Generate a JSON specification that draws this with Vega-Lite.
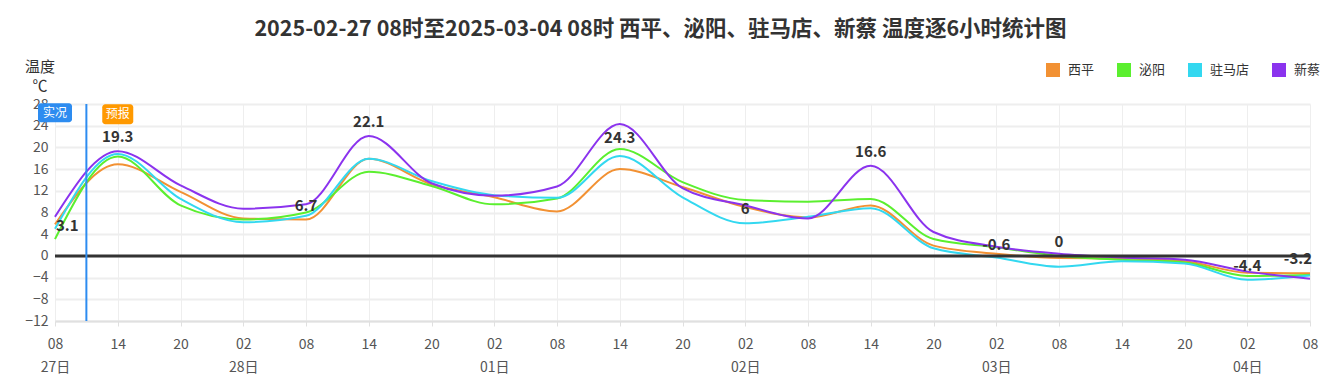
{
  "$schema": "https://vega.github.io/schema/vega-lite/v6.json",
  "width": 1255,
  "height": 217,
  "autosize": {"type": "none"},
  "padding": {"left": 55, "top": 104, "right": 10, "bottom": 68},
  "background": "white",
  "config": {
    "font": "Noto Sans CJK SC",
    "view": {"stroke": null}
  },
  "title": {
    "text": "2025-02-27 08时至2025-03-04 08时 西平、泌阳、驻马店、新蔡 温度逐6小时统计图",
    "fontSize": 21.5,
    "fontWeight": "bold",
    "color": "#333",
    "anchor": "middle",
    "frame": "group",
    "dx": -22,
    "offset": 19
  },
  "datasets": {
    "temps": [
      {"t": "2025-02-27 08:00", "西平": 5.8, "泌阳": 3.1, "驻马店": 5.0, "新蔡": 7.2},
      {"t": "2025-02-27 14:00", "西平": 16.9, "泌阳": 18.3, "驻马店": 18.8, "新蔡": 19.3},
      {"t": "2025-02-27 20:00", "西平": 11.8, "泌阳": 9.3, "驻马店": 10.5, "新蔡": 13.0},
      {"t": "2025-02-28 02:00", "西平": 6.9, "泌阳": 6.7, "驻马店": 6.2, "新蔡": 8.7},
      {"t": "2025-02-28 08:00", "西平": 6.7, "泌阳": 8.0, "驻马店": 7.4, "新蔡": 9.5},
      {"t": "2025-02-28 14:00", "西平": 17.9, "泌阳": 15.5, "驻马店": 17.9, "新蔡": 22.1},
      {"t": "2025-02-28 20:00", "西平": 13.2, "泌阳": 12.9, "驻马店": 13.8, "新蔡": 13.4},
      {"t": "2025-03-01 02:00", "西平": 10.8, "泌阳": 9.5, "驻马店": 11.2, "新蔡": 11.1},
      {"t": "2025-03-01 08:00", "西平": 8.2, "泌阳": 10.6, "驻马店": 10.7, "新蔡": 12.8},
      {"t": "2025-03-01 14:00", "西平": 16.0, "泌阳": 19.7, "驻马店": 18.4, "新蔡": 24.3},
      {"t": "2025-03-01 20:00", "西平": 12.7, "泌阳": 13.6, "驻马店": 10.8, "新蔡": 12.5},
      {"t": "2025-03-02 02:00", "西平": 9.0, "泌阳": 10.3, "驻马店": 6.0, "新蔡": 9.3},
      {"t": "2025-03-02 08:00", "西平": 7.1, "泌阳": 10.0, "驻马店": 7.2, "新蔡": 6.9},
      {"t": "2025-03-02 14:00", "西平": 9.3, "泌阳": 10.5, "驻马店": 8.8, "新蔡": 16.6},
      {"t": "2025-03-02 20:00", "西平": 1.9, "泌阳": 3.1, "驻马店": 1.4, "新蔡": 4.4},
      {"t": "2025-03-03 02:00", "西平": 0.4, "泌阳": 1.6, "驻马店": -0.3, "新蔡": 1.7},
      {"t": "2025-03-03 08:00", "西平": -0.4, "泌阳": 0, "驻马店": -2.0, "新蔡": 0.4},
      {"t": "2025-03-03 14:00", "西平": -0.5, "泌阳": -0.7, "驻马店": -1.0, "新蔡": -0.3},
      {"t": "2025-03-03 20:00", "西平": -1.0, "泌阳": -1.2, "驻马店": -1.4, "新蔡": -0.7},
      {"t": "2025-03-04 02:00", "西平": -3.1, "泌阳": -3.7, "驻马店": -4.4, "新蔡": -2.9},
      {"t": "2025-03-04 08:00", "西平": -3.2, "泌阳": -3.5, "驻马店": -3.6, "新蔡": -4.2}
    ],
    "labels": [
      {"t": "2025-02-27 08:00", "v": 3.1, "label": "3.1"},
      {"t": "2025-02-27 14:00", "v": 19.3, "label": "19.3"},
      {"t": "2025-02-28 08:00", "v": 6.7, "label": "6.7"},
      {"t": "2025-02-28 14:00", "v": 22.1, "label": "22.1"},
      {"t": "2025-03-01 14:00", "v": 24.3, "label": "24.3"},
      {"t": "2025-03-02 02:00", "v": 6, "label": "6"},
      {"t": "2025-03-02 14:00", "v": 16.6, "label": "16.6"},
      {"t": "2025-03-03 02:00", "v": -0.6, "label": "-0.6"},
      {"t": "2025-03-03 08:00", "v": 0, "label": "0"},
      {"t": "2025-03-04 02:00", "v": -4.4, "label": "-4.4"},
      {"t": "2025-03-04 08:00", "v": -3.2, "label": "-3.2"}
    ]
  },
  "layer": [
    {
      "data": {"name": "temps"},
      "transform": [{"fold": ["西平", "泌阳", "驻马店", "新蔡"], "as": ["city", "v"]}],
      "mark": {"type": "line", "interpolate": "monotone", "strokeWidth": 2},
      "encoding": {
        "x": {
          "field": "t",
          "type": "temporal",
          "scale": {
            "domain": [
              {"year": 2025, "month": 2, "date": 27, "hours": 8},
              {"year": 2025, "month": 3, "date": 4, "hours": 8}
            ],
            "nice": false
          },
          "axis": {
            "title": null,
            "tickCount": 30,
            "values": [
              {"year": 2025, "month": 2, "date": 27, "hours": 8},
              {"year": 2025, "month": 2, "date": 27, "hours": 14},
              {"year": 2025, "month": 2, "date": 27, "hours": 20},
              {"year": 2025, "month": 2, "date": 28, "hours": 2},
              {"year": 2025, "month": 2, "date": 28, "hours": 8},
              {"year": 2025, "month": 2, "date": 28, "hours": 14},
              {"year": 2025, "month": 2, "date": 28, "hours": 20},
              {"year": 2025, "month": 3, "date": 1, "hours": 2},
              {"year": 2025, "month": 3, "date": 1, "hours": 8},
              {"year": 2025, "month": 3, "date": 1, "hours": 14},
              {"year": 2025, "month": 3, "date": 1, "hours": 20},
              {"year": 2025, "month": 3, "date": 2, "hours": 2},
              {"year": 2025, "month": 3, "date": 2, "hours": 8},
              {"year": 2025, "month": 3, "date": 2, "hours": 14},
              {"year": 2025, "month": 3, "date": 2, "hours": 20},
              {"year": 2025, "month": 3, "date": 3, "hours": 2},
              {"year": 2025, "month": 3, "date": 3, "hours": 8},
              {"year": 2025, "month": 3, "date": 3, "hours": 14},
              {"year": 2025, "month": 3, "date": 3, "hours": 20},
              {"year": 2025, "month": 3, "date": 4, "hours": 2},
              {"year": 2025, "month": 3, "date": 4, "hours": 8}
            ],
            "labelExpr": "hours(datum.value) == 2 || datum.index == 0 ? [timeFormat(datum.value, '%H'), timeFormat(datum.value, '%d') + '日'] : timeFormat(datum.value, '%H')",
            "labelFontSize": 14,
            "labelColor": "#555",
            "labelLineHeight": 23,
            "labelPadding": 11,
            "labelFlush": false,
            "labelOverlap": false,
            "tickSize": 5,
            "tickColor": "#e0e0e0",
            "domainColor": "#e0e0e0",
            "domainWidth": 2,
            "grid": true,
            "gridColor": "#eeeeee"
          }
        },
        "y": {
          "field": "v",
          "type": "quantitative",
          "scale": {"domain": [-12, 28], "nice": false, "zero": false},
          "axis": {
            "values": [-12, -8, -4, 0, 4, 8, 12, 16, 20, 24, 28],
            "tickCount": 11,
            "title": ["温度", "℃"],
            "titleAngle": 0,
            "titleX": -15.5,
            "titleY": -33,
            "titleAlign": "center",
            "titleBaseline": "alphabetic",
            "titleFontSize": 15,
            "titleFontWeight": "normal",
            "titleColor": "#333",
            "titleLineHeight": 19,
            "labelFontSize": 14,
            "labelColor": "#555",
            "labelPadding": 7,
            "labelOverlap": false,
            "labelFlush": false,
            "ticks": false,
            "domain": false,
            "grid": true,
            "gridColor": "#eeeeee",
            "gridWidth": 2
          }
        },
        "color": {
          "field": "city",
          "type": "nominal",
          "scale": {
            "domain": ["西平", "泌阳", "驻马店", "新蔡"],
            "range": ["#F29133", "#5BEF2F", "#33D8F0", "#8B33EE"]
          },
          "legend": {
            "title": null,
            "orient": "none",
            "legendX": 991,
            "legendY": -41,
            "direction": "horizontal",
            "columns": 4,
            "symbolType": "square",
            "symbolSize": 196,
            "symbolStrokeWidth": 0,
            "labelFontSize": 13,
            "labelColor": "#333",
            "labelOffset": 8,
            "columnPadding": 22,
            "encode": {
              "symbols": {"update": {"fill": {"scale": "color", "field": "value"}, "opacity": {"value": 1}}}
            }
          }
        }
      }
    },
    {
      "data": {"values": [{}]},
      "mark": {"type": "rule", "color": "#333", "strokeWidth": 3},
      "encoding": {"y": {"datum": 0}}
    },
    {
      "data": {"values": [{}]},
      "mark": {"type": "rule", "color": "#2d8cf0", "strokeWidth": 2},
      "encoding": {"x": {"datum": {"year": 2025, "month": 2, "date": 27, "hours": 11}, "type": "temporal"}}
    },
    {
      "data": {"values": [{}]},
      "mark": {"type": "rect", "width": 34, "height": 19, "cornerRadius": 3, "color": "#2d8cf0"},
      "encoding": {
        "x": {"datum": {"year": 2025, "month": 2, "date": 27, "hours": 8}, "type": "temporal"},
        "y": {"datum": 26.4}
      }
    },
    {
      "data": {"values": [{}]},
      "mark": {"type": "text", "text": "实况", "color": "white", "fontSize": 12},
      "encoding": {
        "x": {"datum": {"year": 2025, "month": 2, "date": 27, "hours": 8}, "type": "temporal"},
        "y": {"datum": 26.4}
      }
    },
    {
      "data": {"values": [{}]},
      "mark": {"type": "rect", "width": 31, "height": 20, "cornerRadius": 3, "color": "#ff9900"},
      "encoding": {
        "x": {"datum": {"year": 2025, "month": 2, "date": 27, "hours": 14}, "type": "temporal"},
        "y": {"datum": 26.1}
      }
    },
    {
      "data": {"values": [{}]},
      "mark": {"type": "text", "text": "预报", "color": "white", "fontSize": 12},
      "encoding": {
        "x": {"datum": {"year": 2025, "month": 2, "date": 27, "hours": 14}, "type": "temporal"},
        "y": {"datum": 26.1}
      }
    },
    {
      "data": {"name": "labels"},
      "transform": [{"filter": "datum.v < 24 && datum.v != -3.2 && datum.v != 3.1"}],
      "mark": {"type": "text", "fontSize": 15, "fontWeight": "bold", "color": "#333", "dy": -14},
      "encoding": {
        "x": {"field": "t", "type": "temporal"},
        "y": {"field": "v", "type": "quantitative"},
        "text": {"field": "label"}
      }
    },
    {
      "data": {"name": "labels"},
      "transform": [{"filter": "datum.v > 24"}],
      "mark": {"type": "text", "fontSize": 15, "fontWeight": "bold", "color": "#333", "dy": 14},
      "encoding": {
        "x": {"field": "t", "type": "temporal"},
        "y": {"field": "v", "type": "quantitative"},
        "text": {"field": "label"}
      }
    },
    {
      "data": {"name": "labels"},
      "transform": [{"filter": "datum.v == -3.2"}],
      "mark": {"type": "text", "fontSize": 15, "fontWeight": "bold", "color": "#333", "dy": -14, "align": "right", "dx": 2},
      "encoding": {
        "x": {"field": "t", "type": "temporal"},
        "y": {"field": "v", "type": "quantitative"},
        "text": {"field": "label"}
      }
    },
    {
      "data": {"name": "labels"},
      "transform": [{"filter": "datum.v == 3.1"}],
      "mark": {"type": "text", "fontSize": 15, "fontWeight": "bold", "color": "#333", "dy": -13, "align": "left", "dx": 1},
      "encoding": {
        "x": {"field": "t", "type": "temporal"},
        "y": {"field": "v", "type": "quantitative"},
        "text": {"field": "label"}
      }
    }
  ]
}
